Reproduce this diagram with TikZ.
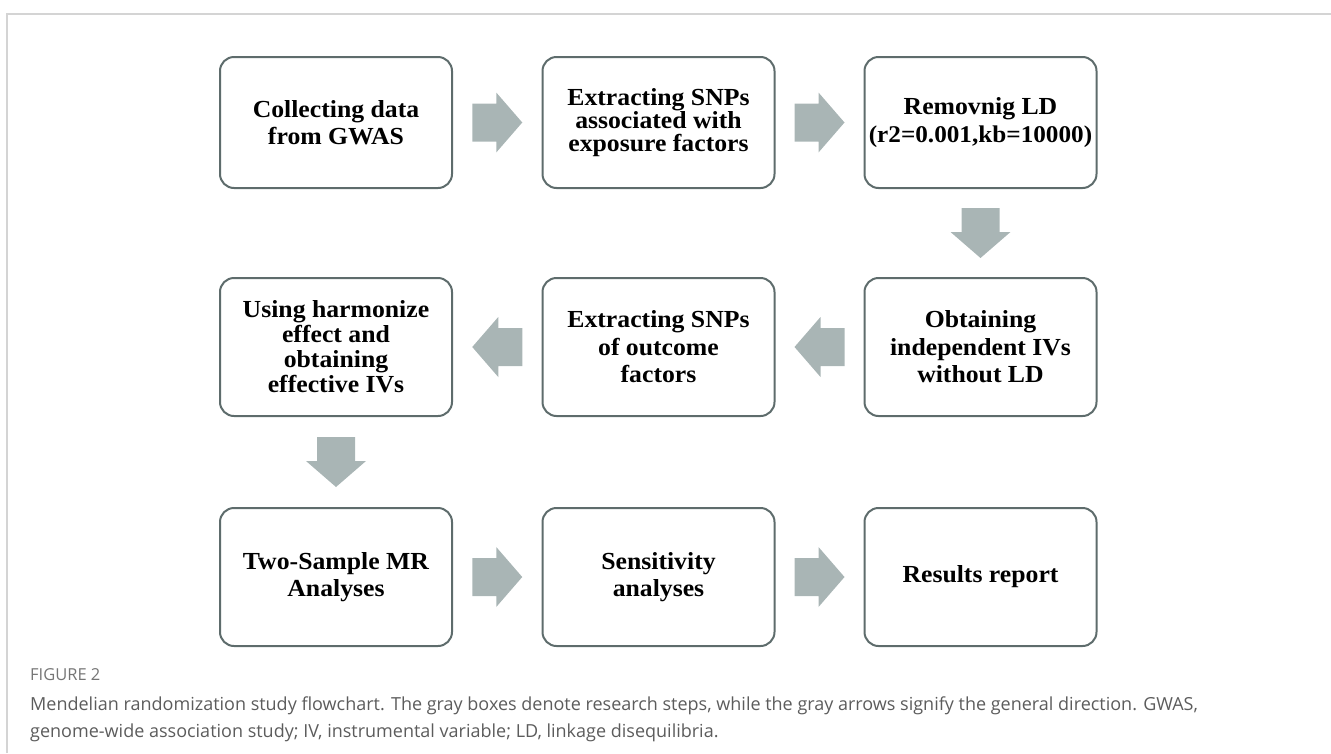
\documentclass[tikz,border=0pt]{standalone}
\usepackage{fontspec}
\setmainfont{Liberation Serif}[FakeStretch=1.05]
\newfontfamily\capfont{Open Sans}
\usetikzlibrary{calc}
\definecolor{boxline}{HTML}{5E6C6C}
\definecolor{arrowfill}{HTML}{A9B5B5}
\definecolor{framegray}{HTML}{D4D4D4}
\definecolor{captext}{HTML}{5C5C5C}
\begin{document}
\begin{tikzpicture}[x=1pt,y=-1pt,
  stepbox/.style={draw=boxline, line width=2pt, rounded corners=14pt, fill=white,
    minimum width=232pt, minimum height=135pt, align=center, inner xsep=0pt, inner ysep=4pt,
    font=\fontsize{24.5}{27.5}\selectfont\bfseries},
  flowarrow/.pic={\fill[arrowfill] (-25,-19) -- (-1,-19) -- (-1,-30) -- (25,0) -- (-1,30) -- (-1,19) -- (-25,19) -- cycle;}
]
\useasboundingbox (0,0) rectangle (1331,753);
\draw[framegray, line width=1.5pt] (7,753) -- (7,14) -- (1331,14);

\node[stepbox, minimum height=131pt] (b1) at (336,122.5) {Collecting data\\from GWAS};
\node[stepbox, minimum height=131pt, font=\fontsize{24.5}{23}\selectfont\bfseries] (b2) at (658.5,122.5) {Extracting SNPs\\associated with\\exposure factors};
\node[stepbox, minimum height=131pt] (b3) at (980.5,122.5) {Removnig LD\\{\fontsize{24}{27.5}\selectfont(r2=0.001,kb=10000)}};

\node[stepbox, minimum height=138pt] (b4) at (980.5,347) {Obtaining\\independent IVs\\without LD};
\node[stepbox, minimum height=138pt] (b5) at (658.5,347) {Extracting SNPs\\of outcome\\factors};
\node[stepbox, minimum height=138pt, font=\fontsize{24.5}{25}\selectfont\bfseries] (b6) at (336,347) {Using harmonize\\effect and\\obtaining\\effective IVs};

\node[stepbox, minimum height=138pt] (b7) at (336,577) {Two-Sample MR\\Analyses};
\node[stepbox, minimum height=138pt] (b8) at (658.5,577) {Sensitivity\\analyses};
\node[stepbox, minimum height=138pt] (b9) at (980.5,577) {Results report};

\pic at ($(b1.east)!0.5!(b2.west)$) {flowarrow};
\pic at ($(b2.east)!0.5!(b3.west)$) {flowarrow};
\pic[rotate=-90] at ($(b3.south)!0.5!(b4.north)$) {flowarrow};
\pic[rotate=180] at ($(b4.west)!0.5!(b5.east)$) {flowarrow};
\pic[rotate=180] at ($(b5.west)!0.5!(b6.east)$) {flowarrow};
\pic[rotate=-90] at ($(b6.south)!0.5!(b7.north)$) {flowarrow};
\pic at ($(b7.east)!0.5!(b8.west)$) {flowarrow};
\pic at ($(b8.east)!0.5!(b9.west)$) {flowarrow};

\node[anchor=base west, inner sep=0pt, text=captext!85, font=\capfont\fontsize{16.5}{18}\selectfont] (fig) at (30,680) {FIGURE 2};
\node[anchor=base west, inner sep=0pt, text=captext, font=\capfont\fontsize{18}{27}\selectfont, align=left] (cap) at (30,737)
  {Mendelian randomization study flowchart. The gray boxes denote research steps, while the gray arrows signify the general direction. GWAS,\\
   genome-wide association study; IV, instrumental variable; LD, linkage disequilibria.};
\end{tikzpicture}
\end{document}
